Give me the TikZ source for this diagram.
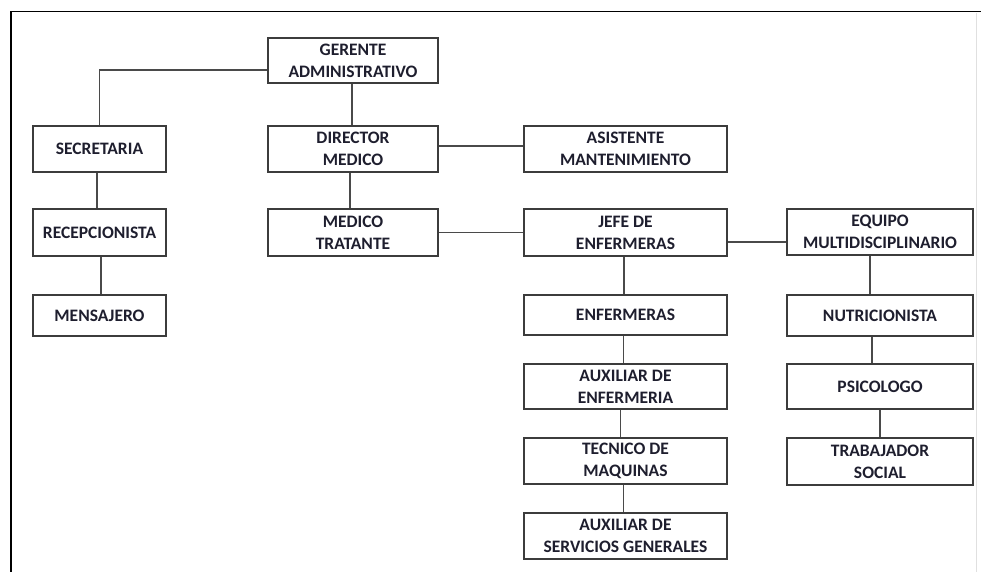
\documentclass[tikz,border=0pt]{standalone}
\usepackage{fontspec}
\setmainfont{Carlito}
\definecolor{boxline}{HTML}{3C3C3C}
\definecolor{conn}{HTML}{4A4A4A}
\definecolor{txt}{HTML}{1E1E2E}
\begin{document}
\begin{tikzpicture}[x=1pt,y=-1pt,
  orgbox/.style={draw=boxline, line width=1.5pt, rectangle, inner sep=0pt, align=center,
    text=txt, font=\fontsize{17.5}{22}\selectfont\bfseries},
  link/.style={draw=conn, line width=1.8pt}]
\useasboundingbox (0,0) rectangle (981,572);
% frame
\draw[black, line width=1.5pt] (10,11.5) -- (981,11.5);
\draw[black, line width=1.5pt] (11,11.5) -- (11,572);
\draw[black!12, line width=1pt] (976,13) -- (976,572);
% nodes
\node[orgbox, minimum width=170pt, minimum height=45pt] (ger) at (353,60.5) {GERENTE\\ADMINISTRATIVO};
\node[orgbox, minimum width=133pt, minimum height=46pt] (sec) at (99.5,149) {SECRETARIA};
\node[orgbox, minimum width=133pt, minimum height=47pt] (rec) at (99.5,232.5) {RECEPCIONISTA};
\node[orgbox, minimum width=133pt, minimum height=41pt] (men) at (99.5,315.5) {MENSAJERO};
\node[orgbox, minimum width=170pt, minimum height=46pt] (dir) at (353,149) {DIRECTOR\\MEDICO};
\node[orgbox, minimum width=170pt, minimum height=47pt] (med) at (353,232.5) {MEDICO\\TRATANTE};
\node[orgbox, minimum width=203pt, minimum height=46pt] (asi) at (625.5,149) {ASISTENTE\\MANTENIMIENTO};
\node[orgbox, minimum width=203pt, minimum height=47pt] (jef) at (625.5,232.5) {JEFE DE\\ENFERMERAS};
\node[orgbox, minimum width=203pt, minimum height=40pt] (enf) at (625.5,315) {ENFERMERAS};
\node[orgbox, minimum width=203pt, minimum height=45pt] (aux) at (625.5,386.5) {AUXILIAR DE\\ENFERMERIA};
\node[orgbox, minimum width=203pt, minimum height=46pt] (tec) at (625.5,461) {TECNICO DE\\MAQUINAS};
\node[orgbox, minimum width=203pt, minimum height=46pt] (ser) at (625.5,536) {AUXILIAR DE\\SERVICIOS GENERALES};
\node[orgbox, minimum width=186pt, minimum height=46pt] (equ) at (880,232) {EQUIPO\\MULTIDISCIPLINARIO};
\node[orgbox, minimum width=186pt, minimum height=41pt] (nut) at (880,315.5) {NUTRICIONISTA};
\node[orgbox, minimum width=186pt, minimum height=45pt] (psi) at (880,386.5) {PSICOLOGO};
\node[orgbox, minimum width=186pt, minimum height=47pt] (tra) at (880,461.5) {TRABAJADOR\\SOCIAL};
% connectors
\draw[link] ([yshift=-9.5pt]ger.west) -| (sec.north);
\draw[link] ([xshift=-2.5pt]sec.south) -- ([xshift=-2.5pt]rec.north);
\draw[link] ([xshift=1.5pt]rec.south) -- ([xshift=1.5pt]men.north);
\draw[link] ([xshift=-1pt]ger.south) -- ([xshift=-1pt]dir.north);
\draw[link] ([xshift=-3pt]dir.south) -- ([xshift=-3pt]med.north);
\draw[link] ([yshift=3pt]dir.east) -- ([yshift=3pt]asi.west);
\draw[link] (med.east) -- (jef.west);
\draw[link] ([yshift=-9.5pt]jef.east) coordinate (je) -- (je -| equ.west);
\draw[link] ([xshift=-1.5pt]jef.south) -- ([xshift=-1.5pt]enf.north);
\draw[link] ([xshift=-2pt]enf.south) -- ([xshift=-2pt]aux.north);
\draw[link] ([xshift=-5pt]aux.south) -- ([xshift=-5pt]tec.north);
\draw[link] ([xshift=-2pt]tec.south) -- ([xshift=-2pt]ser.north);
\draw[link] ([xshift=-10pt]equ.south) -- ([xshift=-10pt]nut.north);
\draw[link] ([xshift=-8pt]nut.south) -- ([xshift=-8pt]psi.north);
\draw[link] (psi.south) -- (tra.north);
\end{tikzpicture}
\end{document}
